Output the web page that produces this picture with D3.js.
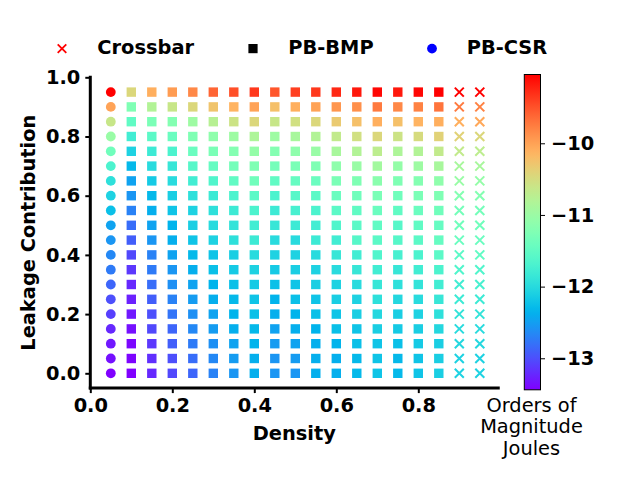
<!DOCTYPE html>
<html>
<head>
<meta charset="utf-8">
<script src="https://cdn.jsdelivr.net/npm/d3@7"></script>
<style>
  html, body { margin: 0; padding: 0; background: #fff; }
  svg { display: block; font-family: "DejaVu Sans", sans-serif; }
</style>
</head>
<body>
<svg id="chart" width="640" height="480"></svg>
<script>
// ---------------- data ----------------
const leakage = [0.95, 0.9, 0.85, 0.8, 0.75, 0.7, 0.65, 0.6, 0.55, 0.5, 0.45, 0.4, 0.35, 0.3, 0.25, 0.2, 0.15, 0.1, 0.05, 0.0];
const csrDensity = [0.05];
const bmpDensity = [0.1, 0.15, 0.2, 0.25, 0.3, 0.35, 0.4, 0.45, 0.5, 0.55, 0.6, 0.65, 0.7, 0.75, 0.8, 0.85];
const crossbarDensity = [0.9, 0.95];

// log10 energy (Orders of Magnitude Joules), one row per leakage value (top to bottom)
const csrEnergy = [-9.04, -10.01, -10.62, -11.02, -11.37, -11.68, -11.94, -12.08, -12.25, -12.47,
                   -12.56, -12.65, -12.74, -12.87, -13.00, -13.09, -13.22, -13.31, -13.35, -13.44];

const bmpEnergy = [
  [-10.45, -10.10, -9.96, -9.83, -9.61, -9.48, -9.35, -9.52, -9.39, -9.35, -9.26, -9.17, -9.08, -9.17, -9.08, -9.04],
  [-11.24, -10.80, -10.62, -10.45, -10.27, -10.14, -10.01, -10.23, -10.10, -10.01, -9.92, -9.88, -9.74, -9.83, -9.79, -9.70],
  [-11.50, -11.28, -11.20, -10.98, -10.76, -10.58, -10.45, -10.62, -10.54, -10.45, -10.32, -10.23, -10.10, -10.23, -10.14, -10.10],
  [-11.77, -11.55, -11.42, -11.24, -11.11, -10.98, -10.84, -10.98, -10.89, -10.80, -10.67, -10.54, -10.45, -10.58, -10.49, -10.40],
  [-12.08, -11.81, -11.68, -11.42, -11.28, -11.20, -11.06, -11.20, -11.11, -11.02, -10.89, -10.80, -10.71, -10.84, -10.80, -10.67],
  [-12.30, -11.99, -11.86, -11.59, -11.46, -11.33, -11.24, -11.33, -11.28, -11.24, -11.11, -11.02, -10.93, -11.06, -10.98, -10.89],
  [-12.47, -12.16, -11.99, -11.77, -11.64, -11.50, -11.37, -11.50, -11.46, -11.42, -11.28, -11.24, -11.15, -11.24, -11.20, -11.11],
  [-12.56, -12.30, -12.12, -11.94, -11.81, -11.68, -11.55, -11.68, -11.59, -11.55, -11.42, -11.37, -11.28, -11.37, -11.28, -11.24],
  [-12.69, -12.38, -12.21, -12.08, -11.94, -11.81, -11.68, -11.81, -11.72, -11.68, -11.55, -11.50, -11.42, -11.50, -11.42, -11.37],
  [-12.82, -12.47, -12.34, -12.12, -11.99, -11.90, -11.77, -11.86, -11.81, -11.77, -11.64, -11.55, -11.50, -11.59, -11.50, -11.46],
  [-12.91, -12.56, -12.38, -12.21, -12.08, -11.94, -11.81, -11.99, -11.99, -11.81, -11.77, -11.59, -11.55, -11.59, -11.55, -11.46],
  [-13.04, -12.69, -12.47, -12.30, -12.21, -12.12, -11.99, -12.08, -12.08, -11.99, -11.86, -11.77, -11.64, -11.72, -11.68, -11.55],
  [-13.13, -12.74, -12.56, -12.38, -12.25, -12.16, -12.08, -12.16, -12.12, -12.08, -11.99, -11.86, -11.77, -11.86, -11.77, -11.68],
  [-13.22, -12.82, -12.60, -12.47, -12.34, -12.25, -12.16, -12.25, -12.21, -12.12, -12.08, -11.99, -11.86, -11.94, -11.90, -11.77],
  [-13.26, -12.91, -12.69, -12.52, -12.38, -12.30, -12.21, -12.34, -12.25, -12.21, -12.12, -12.08, -11.94, -12.03, -11.99, -11.86],
  [-13.31, -13.00, -12.78, -12.60, -12.47, -12.34, -12.25, -12.38, -12.34, -12.25, -12.21, -12.12, -12.03, -12.12, -12.08, -11.94],
  [-13.35, -13.04, -12.87, -12.65, -12.52, -12.38, -12.30, -12.47, -12.38, -12.34, -12.25, -12.21, -12.12, -12.16, -12.12, -12.03],
  [-13.40, -13.13, -12.91, -12.74, -12.60, -12.47, -12.34, -12.52, -12.47, -12.38, -12.34, -12.25, -12.21, -12.25, -12.16, -12.12],
  [-13.42, -13.18, -13.00, -12.82, -12.65, -12.52, -12.38, -12.56, -12.52, -12.38, -12.38, -12.30, -12.21, -12.30, -12.21, -12.12],
  [-13.44, -13.22, -13.04, -12.87, -12.69, -12.56, -12.38, -12.56, -12.56, -12.38, -12.38, -12.30, -12.21, -12.30, -12.21, -12.12]
];

const crossbarEnergy = [
  [-9.04, -9.04], [-9.74, -9.79], [-10.10, -10.05], [-10.40, -10.45], [-10.67, -10.71],
  [-10.89, -10.89], [-11.02, -11.06], [-11.20, -11.20], [-11.33, -11.33], [-11.37, -11.37],
  [-11.42, -11.42], [-11.55, -11.50], [-11.64, -11.64], [-11.77, -11.72], [-11.81, -11.81],
  [-11.90, -11.90], [-11.99, -11.99], [-12.03, -12.03], [-12.08, -12.08], [-12.08, -12.08]
];

const colorDomain = [-13.44, -9.04];
const xTicks = [0.0, 0.2, 0.4, 0.6, 0.8];
const yTicks = [0.0, 0.2, 0.4, 0.6, 0.8, 1.0];
const colorbarTicks = [-13, -12, -11, -10];
const legendLabels = ["Crossbar", "PB-BMP", "PB-CSR"];

// ---------------- drawing ----------------
const svg = d3.select("#chart");
const FONT = "DejaVu Sans";

// matplotlib "rainbow" colormap
function rainbow(t) {
  t = Math.max(0, Math.min(1, t));
  const r = Math.min(1, Math.abs(2 * t - 0.5));
  const g = Math.max(0, Math.sin(Math.PI * t));
  const b = Math.max(0, Math.cos(Math.PI * t / 2));
  return d3.rgb(r * 255, g * 255, b * 255).formatHex();
}
const color = d3.scaleSequential(rainbow).domain(colorDomain);

const x = d3.scaleLinear().domain([0, 1]).range([90.3, 500.3]);
const y = d3.scaleLinear().domain([-0.05, 1]).range([388.1, 77.3]);
const xMax = 0.995;

// points
function points(densities, energyRow) {
  const out = [];
  leakage.forEach((l, i) => {
    densities.forEach((d, j) => {
      out.push({ d, l, e: energyRow(i, j) });
    });
  });
  return out;
}
const crossPts = points(crossbarDensity, (i, j) => crossbarEnergy[i][j]);
const bmpPts = points(bmpDensity, (i, j) => bmpEnergy[i][j]);
const csrPts = points(csrDensity, (i) => csrEnergy[i]);

const plot = svg.append("g");
const cs = 4.5;
plot.selectAll("path.cross").data(crossPts).enter().append("path")
  .attr("class", "cross")
  .attr("d", p => {
    const cx = x(p.d), cy = y(p.l);
    return `M${cx - cs},${cy - cs}L${cx + cs},${cy + cs}M${cx - cs},${cy + cs}L${cx + cs},${cy - cs}`;
  })
  .attr("stroke", p => color(p.e))
  .attr("stroke-width", 2)
  .attr("fill", "none");

const sq = 9.4;
plot.selectAll("rect.bmp").data(bmpPts).enter().append("rect")
  .attr("class", "bmp")
  .attr("x", p => x(p.d) - sq / 2)
  .attr("y", p => y(p.l) - sq / 2)
  .attr("width", sq).attr("height", sq)
  .attr("fill", p => color(p.e));

plot.selectAll("circle.csr").data(csrPts).enter().append("circle")
  .attr("class", "csr")
  .attr("cx", p => x(p.d))
  .attr("cy", p => y(p.l))
  .attr("r", 4.9)
  .attr("fill", p => color(p.e));

// axes
const fmt = d3.format(".1f");
const xAxis = svg.append("g")
  .attr("transform", `translate(0,${y(-0.05)})`)
  .call(d3.axisBottom(x).tickValues(xTicks).tickFormat(fmt).tickSize(5).tickPadding(5));
const yAxis = svg.append("g")
  .attr("transform", `translate(${x(0)},0)`)
  .call(d3.axisLeft(y).tickValues(yTicks).tickFormat(fmt).tickSize(5).tickPadding(5));

[xAxis, yAxis].forEach(a => {
  a.select(".domain").remove();
  a.selectAll(".tick line").attr("stroke", "#000").attr("stroke-width", 2);
  a.selectAll(".tick text")
    .attr("font-family", FONT).attr("font-weight", "bold")
    .attr("font-size", 19.4).attr("fill", "#000");
});

// spines
svg.append("line")
  .attr("x1", x(0)).attr("x2", x(0))
  .attr("y1", y(-0.05) + 1.5).attr("y2", y(1) - 1.5)
  .attr("stroke", "#000").attr("stroke-width", 3);
svg.append("line")
  .attr("x1", x(0) - 1.5).attr("x2", x(xMax) + 1.5)
  .attr("y1", y(-0.05)).attr("y2", y(-0.05))
  .attr("stroke", "#000").attr("stroke-width", 3);

// axis labels
svg.append("text")
  .attr("x", (x(0) + x(xMax)) / 2).attr("y", 440)
  .attr("text-anchor", "middle")
  .attr("font-family", FONT).attr("font-weight", "bold").attr("font-size", 19.4)
  .text("Density");
svg.append("text")
  .attr("transform", `translate(35,${(y(-0.05) + y(1)) / 2}) rotate(-90)`)
  .attr("text-anchor", "middle")
  .attr("font-family", FONT).attr("font-weight", "bold").attr("font-size", 19.4)
  .text("Leakage Contribution");

// colorbar
const cbX = 524.3, cbW = 16.2;
const cy = d3.scaleLinear().domain(colorDomain).range([389.8, 74.5]);
const defs = svg.append("defs");
const grad = defs.append("linearGradient").attr("id", "cbgrad")
  .attr("x1", 0).attr("y1", 1).attr("x2", 0).attr("y2", 0);
d3.range(0, 1.0001, 0.02).forEach(t => {
  grad.append("stop").attr("offset", t).attr("stop-color", rainbow(t));
});
svg.append("rect")
  .attr("x", cbX).attr("y", cy(colorDomain[1]))
  .attr("width", cbW).attr("height", cy(colorDomain[0]) - cy(colorDomain[1]))
  .attr("fill", "url(#cbgrad)")
  .attr("stroke", "#000").attr("stroke-width", 1);
const cbAxis = svg.append("g")
  .attr("transform", `translate(${cbX + cbW},0)`)
  .call(d3.axisRight(cy).tickValues(colorbarTicks).tickFormat(d3.format("d")).tickSize(4.5).tickPadding(6));
cbAxis.select(".domain").remove();
cbAxis.selectAll(".tick line").attr("stroke", "#000").attr("stroke-width", 1);
cbAxis.selectAll(".tick text")
  .attr("font-family", FONT).attr("font-weight", "bold")
  .attr("font-size", 19.4).attr("fill", "#000");

// colorbar label
const cbLabel = svg.append("text")
  .attr("text-anchor", "middle")
  .attr("font-family", FONT).attr("font-size", 19.4).attr("fill", "#000");
["Orders of", "Magnitude", "Joules"].forEach((s, i) => {
  cbLabel.append("tspan").attr("x", 531.5).attr("y", 412 + i * 21.3).text(s);
});

// legend
const legendMarkerX = [62, 253, 432];
const legendTextX = [97.3, 288.3, 466.7];
const legY = 48.6;
const leg = svg.append("g");
leg.append("path")
  .attr("d", `M${legendMarkerX[0] - 4.3},${legY - 4.3}L${legendMarkerX[0] + 4.3},${legY + 4.3}M${legendMarkerX[0] - 4.3},${legY + 4.3}L${legendMarkerX[0] + 4.3},${legY - 4.3}`)
  .attr("stroke", "#ff0000").attr("stroke-width", 1.8).attr("fill", "none");
leg.append("rect")
  .attr("x", legendMarkerX[1] - 4.6).attr("y", legY - 4.6)
  .attr("width", 9.2).attr("height", 9.2).attr("fill", "#000");
leg.append("circle")
  .attr("cx", legendMarkerX[2]).attr("cy", legY).attr("r", 4.9).attr("fill", "#0000ff");
legendLabels.forEach((s, i) => {
  leg.append("text")
    .attr("x", legendTextX[i]).attr("y", 53.5)
    .attr("font-family", FONT).attr("font-weight", "bold").attr("font-size", 19.4)
    .attr("fill", "#000")
    .text(s);
});
</script>
</body>
</html>
